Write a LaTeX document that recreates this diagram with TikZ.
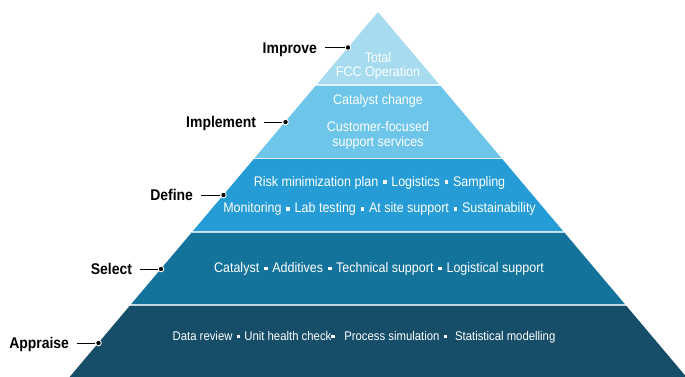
\documentclass[tikz,border=0pt]{standalone}
\usepackage{fontspec}
\setmainfont{Liberation Sans}[FakeStretch=0.9]
\newcommand\sqbul{\hspace{0.33em}\rule[0.13em]{0.28em}{0.28em}\hspace{0.33em}}
\definecolor{tierA}{HTML}{A6DBF0}
\definecolor{tierB}{HTML}{6DC5EA}
\definecolor{tierC}{HTML}{259CD5}
\definecolor{tierD}{HTML}{14739B}
\definecolor{tierE}{HTML}{164E69}
\begin{document}
\begin{tikzpicture}[x=1pt,y=-1pt,
  lbl/.style={font=\fontsize{15.5}{18}\selectfont\bfseries, text=black, anchor=east,
    inner xsep=4pt, outer xsep=4pt, inner ysep=0pt, outer ysep=0pt,
    text height=11.2pt, text depth=0pt},
  itm/.style={font=\fontsize{13.9}{16}\selectfont, text=white, anchor=base, inner sep=0pt},
  itmsmall/.style={itm, font=\fontsize{12.6}{15}\selectfont},
  lead/.style={draw=black, line width=0.9pt},
  pin/.style={circle, fill=black, draw=white, line width=0.9pt, minimum size=5.6pt, inner sep=0pt},
  sep/.style={draw=white, draw opacity=0.75, line width=1.2pt}
]
\useasboundingbox (0,0) rectangle (685,377);

% pyramid tiers, top to bottom
\fill[tierA] (378,12) -- (439.7,85) -- (316.3,85) -- cycle;
\fill[tierB] (316.3,85) -- (439.7,85) -- (501.8,158.5) -- (254.2,158.5) -- cycle;
\fill[tierC] (254.2,158.5) -- (501.8,158.5) -- (563.9,232) -- (192.1,232) -- cycle;
\fill[tierD] (192.1,232) -- (563.9,232) -- (625.6,305) -- (130.4,305) -- cycle;
\fill[tierE] (130.4,305) -- (625.6,305) -- (686.4,377) -- (69.6,377) -- cycle;

% thin separators between tiers
\draw[sep] (316.3,85) -- (439.7,85);
\draw[sep] (254.2,158.5) -- (501.8,158.5);
\draw[sep] (192.1,232) -- (563.9,232);
\draw[sep] (130.4,305) -- (625.6,305);

% tier contents
\node[itm] (t1a) at (378,62.7) {Total};
\node[itm] (t1b) at (378,76.7) {FCC Operation};
\node[itm] (t2a) at (378,105) {Catalyst change};
\node[itm] (t2b) at (378,131.7) {Customer-focused};
\node[itm] (t2c) at (378,146.7) {support services};
\node[itm] (t3a) at (379.5,186) {Risk minimization plan\sqbul Logistics\sqbul Sampling};
\node[itm] (t3b) at (379.5,212.7) {Monitoring\sqbul Lab testing\sqbul At site support\sqbul Sustainability};
\node[itm] (t4a) at (379,272.3) {Catalyst\sqbul Additives\sqbul Technical support\sqbul Logistical support};
\node[itmsmall] (t5a) at (364,340) {Data review\sqbul Unit health check\rule[0.13em]{0.28em}{0.28em}\hspace{0.75em}Process simulation\sqbul\hspace{0.3em}Statistical modelling};

% stage labels with leaders to the pyramid edge
\node[lbl] (improve) at (325,47.5) {Improve};
\node[lbl] (implement) at (264,122) {Implement};
\node[lbl] (define) at (201,195) {Define};
\node[lbl] (select) at (140,269) {Select};
\node[lbl] (appraise) at (77,343) {Appraise};

\node[pin] (pImprove) at (348,47.5) {};
\node[pin] (pImplement) at (285.5,122) {};
\node[pin] (pDefine) at (223.5,195) {};
\node[pin] (pSelect) at (161,269) {};
\node[pin] (pAppraise) at (98.5,343) {};

\draw[lead] (improve) -- (pImprove);
\draw[lead] (implement) -- (pImplement);
\draw[lead] (define) -- (pDefine);
\draw[lead] (select) -- (pSelect);
\draw[lead] (appraise) -- (pAppraise);
\end{tikzpicture}
\end{document}
